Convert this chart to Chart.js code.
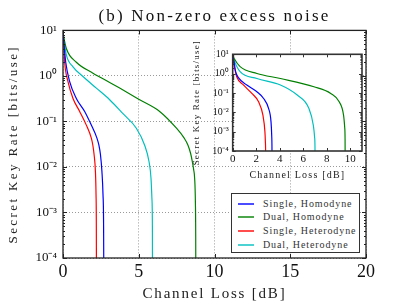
<!DOCTYPE html>
<html><head><meta charset="utf-8">
<script src="https://cdn.jsdelivr.net/npm/chart.js@4.4.0/dist/chart.umd.min.js"></script>
<style>
html,body{margin:0;padding:0;background:#fff;overflow:hidden}
#wrap{position:relative;width:407px;height:305px}
#main{position:absolute;left:0;top:0}
#inset{position:absolute;left:190px;top:30px}
#legend{position:absolute;left:231px;top:193px;width:129px;height:60px;border:1px solid #333;background:#fff;box-sizing:border-box;font:10px "Liberation Serif",serif;letter-spacing:0.9px;color:#333}
#legend .row{position:absolute;left:0;height:12px;line-height:12px;white-space:nowrap}
#legend .ln{position:absolute;left:6px;top:5px;width:16px;height:2px;opacity:0.7}
#legend .tx{position:absolute;left:31px;top:0}
</style></head><body>
<div id="wrap">
<canvas id="main" width="407" height="305"></canvas>
<canvas id="inset" width="185" height="160"></canvas>
<div id="legend"></div>
</div>
<script>
// ---- data ----
const seriesNames = ['Single, Homodyne', 'Dual, Homodyne', 'Single, Heterodyne', 'Dual, Heterodyne'];
const seriesColors = ['#0000ff', '#008000', '#ff0000', '#00bfbf'];

const lossTicks = [0, 5, 10, 15, 20];
const insetLossTicks = [0, 2, 4, 6, 8, 10];
const rateTicks = [1e1, 1e0, 1e-1, 1e-2, 1e-3, 1e-4];
const rateTickLabels = ['10¹', '10⁰', '10⁻¹', '10⁻²', '10⁻³', '10⁻⁴'];

// main plot
const singleHomLoss = [0, 0.05, 0.18, 0.44, 0.88, 1.43, 1.87, 2.24, 2.37, 2.47, 2.57, 2.64, 2.68, 2.7];
const singleHomRate = [8.3, 5.6, 2.0, 0.75, 0.32, 0.166, 0.083, 0.043, 0.03, 0.019, 0.0079, 0.0025, 0.0005, 1e-5];
const dualHomLoss = [0, 0.05, 0.22, 0.88, 1.98, 3.08, 3.74, 5.06, 6.38, 7.49, 8.0, 8.25, 8.42, 8.54, 8.63, 8.69, 8.74, 8.76, 8.77];
const dualHomRate = [9.3, 7.2, 4.0, 2.0, 1.15, 0.72, 0.54, 0.30, 0.166, 0.071, 0.043, 0.030, 0.02, 0.013, 0.0085, 0.0056, 0.0016, 0.0003, 1e-5];
const singleHetLoss = [0, 0.05, 0.11, 0.33, 0.66, 1.10, 1.54, 1.87, 1.97, 2.05, 2.14, 2.18, 2.2, 2.21];
const singleHetRate = [7.9, 4.8, 2.0, 0.75, 0.32, 0.166, 0.083, 0.043, 0.03, 0.019, 0.0079, 0.0025, 0.0005, 1e-5];
const dualHetLoss = [0, 0.05, 0.22, 0.66, 1.32, 2.2, 3.08, 3.96, 4.84, 5.39, 5.68, 5.81, 5.87, 5.9, 5.91];
const dualHetRate = [8.9, 6.6, 2.9, 1.58, 0.97, 0.54, 0.30, 0.148, 0.071, 0.030, 0.013, 0.0056, 0.002, 0.0005, 1e-5];

// inset plot
const inSingleHomLoss = [0, 0.11, 0.25, 0.5, 1.2, 2.06, 2.63, 3.05, 3.26, 3.32, 3.34, 3.35];
const inSingleHomRate = [7.9, 4.2, 1.26, 0.6, 0.26, 0.115, 0.052, 0.016, 0.0032, 0.0006, 0.00016, 1e-5];
const inDualHomLoss = [0, 0.11, 0.63, 2.06, 4.06, 6.91, 8.34, 9.06, 9.43, 9.53, 9.56, 9.57];
const inDualHomRate = [8.9, 6.2, 2.3, 1.02, 0.56, 0.21, 0.095, 0.035, 0.0071, 0.0016, 0.0004, 1e-5];
const inSingleHetLoss = [0, 0.11, 0.34, 0.91, 1.63, 2.2, 2.57, 2.74, 2.78, 2.8, 2.81];
const inSingleHetRate = [7.1, 2.8, 0.69, 0.26, 0.095, 0.035, 0.0071, 0.001, 0.0003, 0.0001, 1e-5];
const inDualHetLoss = [0, 0.11, 0.63, 2.06, 4.06, 5.49, 6.48, 6.86, 6.97, 7.0, 7.01];
const inDualHetRate = [8.3, 5.0, 1.26, 0.56, 0.26, 0.078, 0.016, 0.0021, 0.0005, 0.00016, 1e-5];

// ---- helpers ----
const SERIF = '"Liberation Serif", serif';
const pts = (xs, ys) => xs.map((x, i) => ({x: x, y: ys[i]}));
const mkSets = (pairs) => pairs.map((p, i) => ({
  label: seriesNames[i], data: pts(p[0], p[1]), borderColor: seriesColors[i],
  borderWidth: 1.2, pointRadius: 0, fill: false, cubicInterpolationMode: 'monotone'
}));

const framePlugin = {
  id: 'frame',
  beforeDraw(chart, args, opts) {
    if (opts.fill) {
      const a = chart.chartArea, c = chart.ctx;
      c.save(); c.fillStyle = opts.fill; c.fillRect(a.left, a.top, a.width, a.height); c.restore();
    }
  },
  afterDatasetsDraw(chart, args, opts) {
    const c = chart.ctx, a = chart.chartArea, x = chart.scales.x, y = chart.scales.y;
    c.save();
    c.strokeStyle = opts.color; c.lineWidth = 1;
    c.beginPath();
    x.ticks.forEach(t => {
      const px = Math.round(x.getPixelForValue(t.value)) + 0.5;
      c.moveTo(px, a.bottom); c.lineTo(px, a.bottom - opts.major);
      c.moveTo(px, a.top); c.lineTo(px, a.top + opts.major);
    });
    const e0 = Math.round(Math.log10(y.min)), e1 = Math.round(Math.log10(y.max));
    for (let e = e0; e <= e1; e++) {
      for (let m = 1; m < 10; m++) {
        if (e === e1 && m > 1) break;
        const py = Math.round(y.getPixelForValue(m * Math.pow(10, e))) + 0.5;
        const len = m === 1 ? opts.major : opts.minor;
        c.moveTo(a.left, py); c.lineTo(a.left + len, py);
        c.moveTo(a.right, py); c.lineTo(a.right - len, py);
      }
    }
    c.stroke();
    c.lineWidth = opts.width;
    c.strokeRect(a.left, a.top, a.width, a.height);
    c.restore();
  }
};

const spacingPlugin = {
  id: 'spacing',
  afterLayout(chart, args, opts) {
    const wrap = (obj, fn, sp) => {
      if (!obj || obj['_w_' + fn]) return;
      const orig = obj[fn].bind(obj);
      obj[fn] = function () { const c = chart.ctx; c.save(); c.letterSpacing = sp; orig.apply(null, arguments); c.restore(); };
      obj['_w_' + fn] = true;
    };
    Object.values(chart.scales).forEach(s => wrap(s, 'drawTitle', opts[s.id] || '0px'));
    if (chart.titleBlock) wrap(chart.titleBlock, 'draw', opts.title || '0px');
  }
};

const logLabel = (v) => { const i = rateTicks.findIndex(t => Math.abs(Math.log10(t) - Math.log10(v)) < 1e-6); return i >= 0 ? rateTickLabels[i] : ''; };

function axes(o) {
  return {
    x: {
      type: 'linear', min: o.xmin, max: o.xmax,
      afterBuildTicks: s => { s.ticks = o.xticks.map(v => ({value: v})); },
      afterFit: s => { s.height = o.xh; },
      ticks: {font: {family: SERIF, size: o.xfont}, color: '#111', padding: o.xpad, maxRotation: 0, autoSkip: false},
      grid: {display: o.grid, color: '#9a9a9a', lineWidth: 1, drawTicks: false},
      border: {display: false, dash: [1, 2]},
      title: {display: true, text: 'Channel Loss [dB]', font: {family: SERIF, size: o.xtfont}, color: '#222', padding: o.xtpad}
    },
    y: {
      type: 'logarithmic', min: 1e-4, max: 10,
      afterBuildTicks: s => { s.ticks = rateTicks.map(v => ({value: v})); },
      afterFit: s => { s.width = o.yw; },
      ticks: {font: {family: SERIF, size: o.yfont}, color: '#111', padding: o.ypad, callback: v => logLabel(v), autoSkip: false},
      grid: {display: o.grid, color: '#9a9a9a', lineWidth: 1, drawTicks: false},
      border: {display: false, dash: [1, 2]},
      title: {display: true, text: 'Secret Key Rate [bits/use]', font: {family: SERIF, size: o.ytfont}, color: '#222', padding: o.ytpad}
    }
  };
}

// ---- main chart ----
new Chart(document.getElementById('main'), {
  type: 'line',
  data: {datasets: mkSets([[singleHomLoss, singleHomRate], [dualHomLoss, dualHomRate], [singleHetLoss, singleHetRate], [dualHetLoss, dualHetRate]])},
  options: {
    responsive: false, animation: false, devicePixelRatio: 1,
    layout: {padding: {left: 0, right: 41, top: 0, bottom: 0}},
    scales: axes({xmin: 0, xmax: 20, xticks: lossTicks, xh: 47, xfont: 18, xpad: 3, xtfont: 15, xtpad: {top: 0, bottom: 2},
                  yw: 63, yfont: 13, ypad: 6, ytfont: 13, ytpad: {top: 6, bottom: 0}, grid: true}),
    plugins: {
      legend: {display: false}, tooltip: {enabled: false},
      title: {display: true, fullSize: false, text: '(b) Non-zero excess noise', font: {family: SERIF, size: 17, weight: 'normal'}, color: '#111', padding: {top: 6, bottom: 4}},
      frame: {color: '#222', width: 1.3, major: 4, minor: 2},
      spacing: {title: '2.2px', x: '1.8px', y: '2.4px'}
    }
  },
  plugins: [framePlugin, spacingPlugin]
});

// ---- inset chart ----
new Chart(document.getElementById('inset'), {
  type: 'line',
  data: {datasets: mkSets([[inSingleHomLoss, inSingleHomRate], [inDualHomLoss, inDualHomRate], [inSingleHetLoss, inSingleHetRate], [inDualHetLoss, inDualHetRate]])},
  options: {
    responsive: false, animation: false, devicePixelRatio: 1,
    layout: {padding: {left: 0, right: 13, top: 24.3, bottom: 8}},
    scales: axes({xmin: 0, xmax: 11, xticks: insetLossTicks, xh: 31, xfont: 11, xpad: 2, xtfont: 10, xtpad: {top: 0, bottom: 1},
                  yw: 42.7, yfont: 10, ypad: 4, ytfont: 9, ytpad: {top: 1, bottom: 0}, grid: false}),
    plugins: {
      legend: {display: false}, tooltip: {enabled: false},
      frame: {color: '#333', width: 1.6, major: 3, minor: 1.5, fill: '#fff'},
      spacing: {x: '1.2px', y: '1.2px'}
    }
  },
  plugins: [framePlugin, spacingPlugin]
});

// ---- legend ----
const lg = document.getElementById('legend');
const rowTops = [4, 17, 31, 45];
seriesNames.forEach((n, i) => {
  const r = document.createElement('div'); r.className = 'row'; r.style.top = rowTops[i] + 'px';
  const l = document.createElement('div'); l.className = 'ln'; l.style.background = seriesColors[i];
  const t = document.createElement('div'); t.className = 'tx'; t.textContent = n;
  r.appendChild(l); r.appendChild(t); lg.appendChild(r);
});
</script>
</body></html>
